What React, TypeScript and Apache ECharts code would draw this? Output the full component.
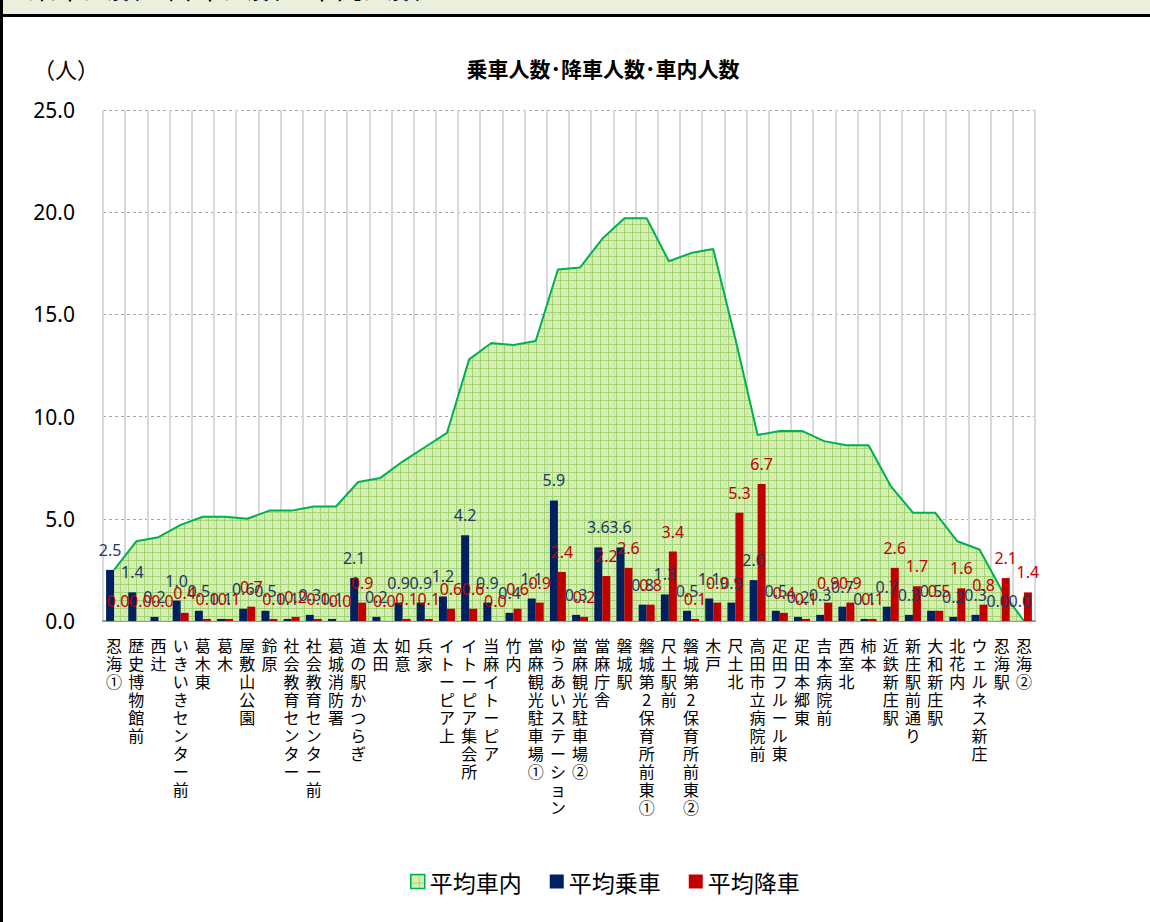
import React, { useEffect, useRef } from "react";
import * as echarts from "echarts";

const categories: string[] = [
  "忍海①", "歴史博物館前", "西辻", "いきいきセンター前", "葛木東", "葛木", "屋敷山公園", "鈴原",
  "社会教育センター", "社会教育センター前", "葛城消防署", "道の駅かつらぎ", "太田", "如意", "兵家",
  "イトーピア上", "イトーピア集会所", "当麻イトーピア", "竹内", "當麻観光駐車場①", "ゆうあいステーション",
  "當麻観光駐車場②", "當麻庁舎", "磐城駅", "磐城第2保育所前東①", "尺土駅前", "磐城第2保育所前東②",
  "木戸", "尺土北", "高田市立病院前", "疋田フルール東", "疋田本郷東", "吉本病院前", "西室北", "柿本",
  "近鉄新庄駅", "新庄駅前通り", "大和新庄駅", "北花内", "ウェルネス新庄", "忍海駅", "忍海②",
];

const boarding: number[] = [
  2.5, 1.4, 0.2, 1.0, 0.5, 0.1, 0.6, 0.5, 0.1, 0.3, 0.1, 2.1, 0.2, 0.9, 0.9, 1.2, 4.2, 0.9, 0.4, 1.1, 5.9,
  0.3, 3.6, 3.6, 0.8, 1.3, 0.5, 1.1, 0.9, 2.0, 0.5, 0.2, 0.3, 0.7, 0.1, 0.7, 0.3, 0.5, 0.2, 0.3, 0.0, 0.0,
];

const alighting: number[] = [
  0.0, 0.0, 0.0, 0.4, 0.1, 0.1, 0.7, 0.1, 0.2, 0.1, 0.0, 0.9, 0.0, 0.1, 0.1, 0.6, 0.6, 0.0, 0.6, 0.9, 2.4,
  0.2, 2.2, 2.6, 0.8, 3.4, 0.1, 0.9, 5.3, 6.7, 0.4, 0.1, 0.9, 0.9, 0.1, 2.6, 1.7, 0.5, 1.6, 0.8, 2.1, 1.4,
];

const onboard: number[] = [
  2.5, 3.9, 4.1, 4.7, 5.1, 5.1, 5.0, 5.4, 5.4, 5.6, 5.6, 6.8, 7.0, 7.8, 8.5, 9.2, 12.8, 13.6, 13.5, 13.7, 17.2,
  17.3, 18.7, 19.7, 19.7, 17.6, 18.0, 18.2, 13.8, 9.1, 9.3, 9.3, 8.8, 8.6, 8.6, 6.6, 5.3, 5.3, 3.9, 3.5, 1.5, 0.0,
];

const yTicks: number[] = [0, 5, 10, 15, 20, 25];

const seriesNames = ["平均車内", "平均乗車", "平均降車"];
const chartTitle = "乗車人数･降車人数･車内人数";
const headerText = "乗車人数・降車人数・車内人数";
const unitText = "（人）";

function makePattern() {
  const c = document.createElement("canvas");
  c.width = 8;
  c.height = 8;
  const ctx = c.getContext("2d")!;
  ctx.fillStyle = "rgba(205,235,170,0.82)";
  ctx.fillRect(0, 0, 8, 8);
  ctx.fillStyle = "rgba(158,210,108,0.9)";
  ctx.fillRect(0, 0, 8, 1);
  ctx.fillRect(0, 0, 1, 8);
  ctx.fillStyle = "rgba(185,222,140,0.6)";
  ctx.fillRect(4, 4, 1, 1);
  ctx.fillRect(2, 6, 1, 1);
  ctx.fillRect(6, 2, 1, 1);
  return c;
}

export default function App() {
  const ref = useRef<HTMLDivElement>(null);

  useEffect(() => {
    document.body.style.margin = "0";
    if (!ref.current) return;
    const chart = echarts.init(ref.current, undefined, { renderer: "svg" });
    const pattern = { image: makePattern(), repeat: "repeat" } as any;
    const cjk = "'Noto Sans CJK JP', 'Noto Sans', sans-serif";
    const num = "'Noto Sans', 'Noto Sans CJK JP', sans-serif";

    const option: any = {
      animation: false,
      backgroundColor: "#ffffff",
      textStyle: { fontFamily: cjk },
      grid: { left: 103, right: 115, top: 110, bottom: 301, containLabel: false },
      legend: {
        left: 410,
        top: 870,
        padding: 0,
        itemWidth: 14,
        itemHeight: 14,
        itemGap: 28,
        icon: "rect",
        textStyle: { fontSize: 23, color: "#000", fontFamily: cjk },
        data: [
          { name: seriesNames[0], icon: "rect", itemStyle: { color: pattern, borderColor: "#00b050", borderWidth: 1.5 } },
          { name: seriesNames[1], icon: "rect" },
          { name: seriesNames[2], icon: "rect" },
        ],
      },
      xAxis: {
        type: "category",
        data: categories,
        boundaryGap: true,
        axisTick: { show: false },
        axisLine: { show: true, lineStyle: { color: "#86a886", width: 2 } },
        splitLine: { show: true, interval: 0, lineStyle: { color: "#d9d9d9", width: 2 } },
        axisLabel: {
          interval: 0,
          margin: 15,
          fontSize: 16,
          lineHeight: 18,
          color: "#000",
          fontFamily: cjk,
          verticalAlign: "top",
          formatter: (v: string) => Array.from(v).join("\n"),
        },
      },
      yAxis: {
        type: "value",
        min: yTicks[0],
        max: yTicks[yTicks.length - 1],
        interval: 5,
        axisLine: { show: false },
        axisTick: { show: false },
        axisLabel: {
          margin: 28,
          fontSize: 21,
          color: "#000",
          fontFamily: num,
          formatter: (v: number) => v.toFixed(1),
        },
        splitLine: { show: true, lineStyle: { color: "#a6a6a6", type: [3, 3], width: 1 } },
      },
      series: [
        {
          name: seriesNames[0],
          type: "line",
          data: onboard,
          symbol: "none",
          z: 1,
          lineStyle: { color: "#00b050", width: 2 },
          itemStyle: { color: "#c8e6a8" },
          areaStyle: { color: pattern, opacity: 1 },
        },
        {
          name: seriesNames[1],
          type: "bar",
          data: boarding,
          barWidth: 8,
          barGap: "0%",
          z: 3,
          itemStyle: { color: "#002060" },
          label: {
            show: true,
            position: "top",
            distance: 12,
            fontSize: 16,
            fontFamily: num,
            color: "#1f3864",
            formatter: (p: any) => Number(p.value).toFixed(1),
          },
        },
        {
          name: seriesNames[2],
          type: "bar",
          data: alighting,
          barWidth: 8,
          barGap: "0%",
          z: 3,
          itemStyle: { color: "#c00000" },
          label: {
            show: true,
            position: "top",
            distance: 12,
            fontSize: 16,
            fontFamily: num,
            color: "#c00000",
            formatter: (p: any) => Number(p.value).toFixed(1),
          },
        },
      ],
      graphic: [
        { type: "rect", shape: { x: 0, y: 0, width: 1150, height: 14 }, style: { fill: "#ebf0de" }, z: 10 },
        {
          type: "text",
          x: 28,
          y: 1,
          z: 11,
          style: { text: headerText, fontSize: 28, fill: "#000", textVerticalAlign: "bottom", fontFamily: cjk },
        },
        { type: "rect", shape: { x: 0, y: 14, width: 1150, height: 3 }, style: { fill: "#000" }, z: 12 },
        { type: "rect", shape: { x: 0, y: 0, width: 3, height: 922 }, style: { fill: "#000" }, z: 12 },
        {
          type: "text",
          x: 33,
          y: 68,
          style: { text: unitText, fontSize: 22, fill: "#000", textVerticalAlign: "middle", fontFamily: cjk },
        },
        {
          type: "text",
          x: 603,
          y: 68,
          style: {
            text: chartTitle,
            fontSize: 21,
            fontWeight: "bold",
            fill: "#000",
            textAlign: "center",
            textVerticalAlign: "middle",
            fontFamily: cjk,
          },
        },
      ],
    };

    chart.setOption(option);
    return () => chart.dispose();
  }, []);

  return <div ref={ref} style={{ width: 1150, height: 922 }} />;
}
